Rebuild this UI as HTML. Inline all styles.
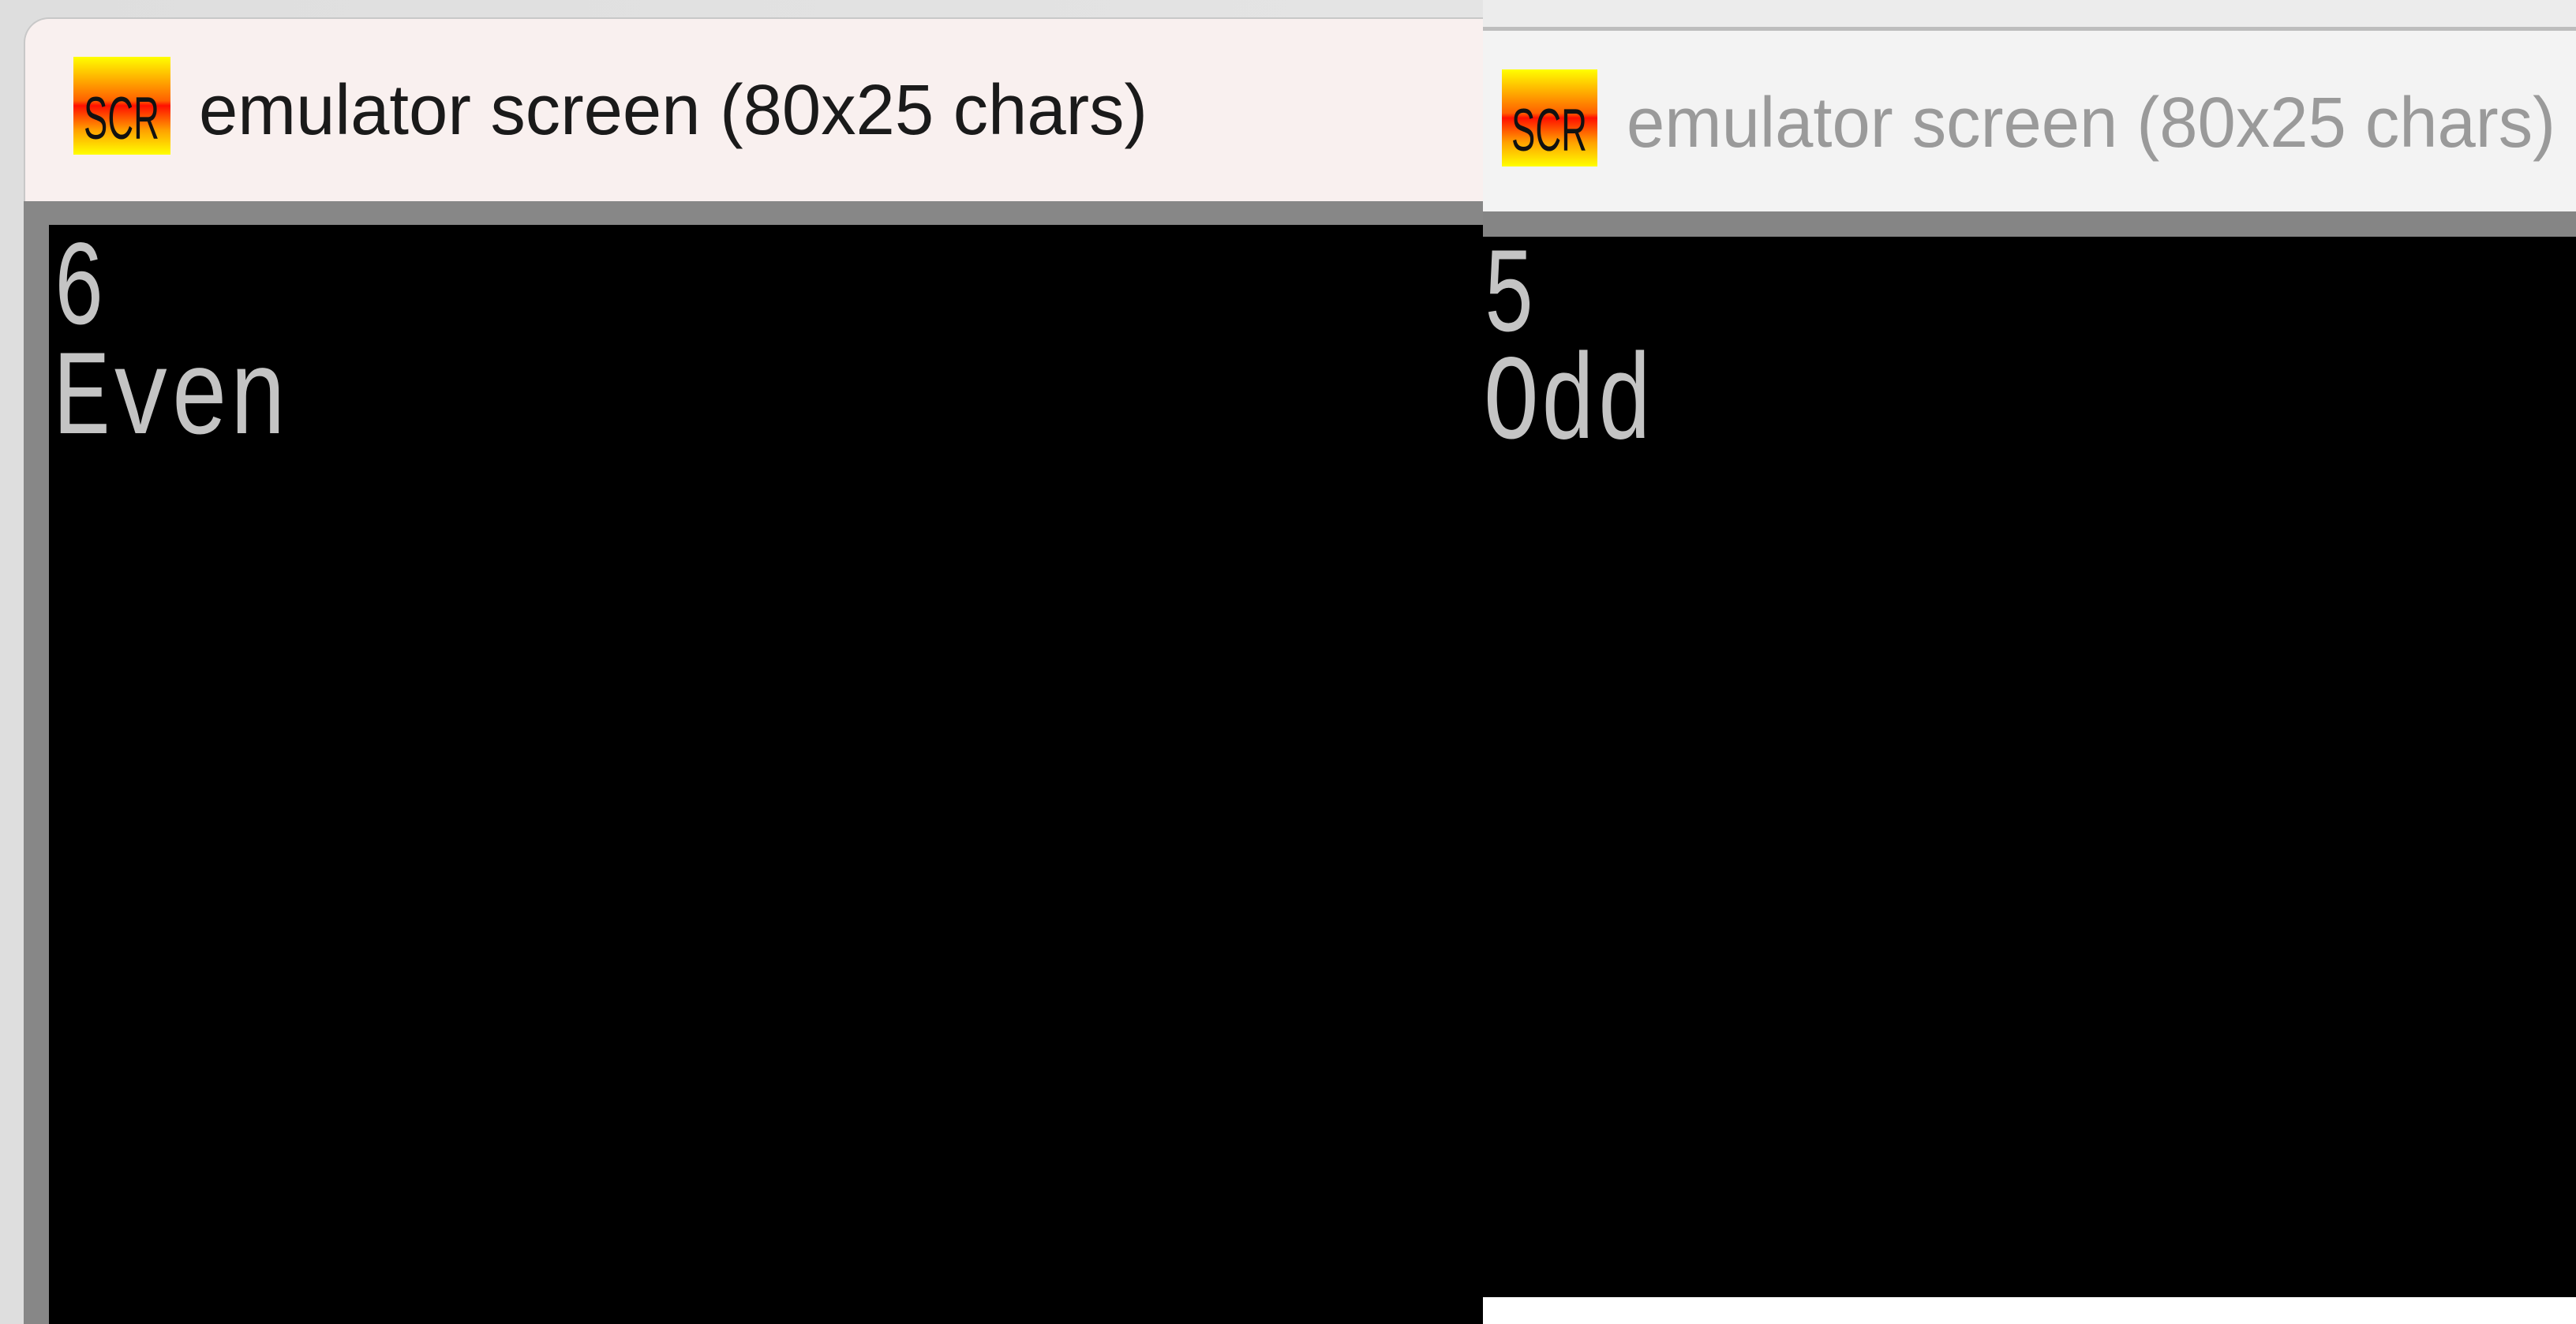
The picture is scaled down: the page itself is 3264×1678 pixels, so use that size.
<!DOCTYPE html>
<html><head><meta charset="utf-8"><style>
html,body{margin:0;padding:0;width:3264px;height:1678px;overflow:hidden;background:#e6e6e6}
svg{display:block}
</style></head><body>
<svg width="3264" height="1678" viewBox="0 0 3264 1678" xmlns="http://www.w3.org/2000/svg">
<defs>
<linearGradient id="ic" x1="0" y1="0" x2="0" y2="1">
<stop offset="0" stop-color="#ffff00"/>
<stop offset="0.45" stop-color="#ff6000"/>
<stop offset="0.5" stop-color="#ff1000"/>
<stop offset="0.75" stop-color="#ffa000"/>
<stop offset="1" stop-color="#ffff00"/>
</linearGradient>
<linearGradient id="bg" x1="0" y1="0" x2="1" y2="0">
<stop offset="0" stop-color="#dedede"/><stop offset="1" stop-color="#e9e9e9"/>
</linearGradient>
</defs>
<rect width="3264" height="1678" fill="url(#bg)"/>
<!-- left window -->
<rect x="30" y="22" width="1900" height="1700" rx="32" fill="#c8c8c8"/>
<rect x="32" y="24" width="1900" height="1700" rx="30" fill="#f9f0ef"/>
<rect x="30" y="255" width="1850" height="1423" fill="#878787"/>
<rect x="62" y="285" width="1818" height="1393" fill="#000"/>
<rect x="93" y="72" width="123" height="124" fill="url(#ic)"/>
<text x="154" y="176" text-anchor="middle" font-family="Liberation Sans, sans-serif" font-size="76" fill="#111" textLength="96" lengthAdjust="spacingAndGlyphs">SCR</text>
<text x="252" y="170" font-family="Liberation Sans, sans-serif" font-size="90" fill="#1a1a1a" textLength="1202" lengthAdjust="spacingAndGlyphs">emulator screen (80x25 chars)</text>
<text x="67" y="410" font-family="Liberation Mono, monospace" font-size="154" fill="#c4c4c4" textLength="66" lengthAdjust="spacingAndGlyphs">6</text>
<text x="67" y="549" font-family="Liberation Mono, monospace" font-size="154" fill="#c4c4c4" textLength="297" lengthAdjust="spacingAndGlyphs">Even</text>
<!-- right window -->
<rect x="1879" y="0" width="1385" height="36" fill="#ececec"/>
<rect x="1879" y="34" width="1385" height="5" fill="#bdbdbd"/>
<rect x="1879" y="39" width="1385" height="229" fill="#f3f3f3"/>
<rect x="1879" y="268" width="1385" height="32" fill="#858585"/>
<rect x="1879" y="300" width="1385" height="1344" fill="#000"/>
<rect x="1879" y="1644" width="1385" height="34" fill="#fff"/>
<rect x="1903" y="88" width="121" height="123" fill="url(#ic)"/>
<text x="1963" y="191" text-anchor="middle" font-family="Liberation Sans, sans-serif" font-size="76" fill="#111" textLength="96" lengthAdjust="spacingAndGlyphs">SCR</text>
<text x="2061" y="186" font-family="Liberation Sans, sans-serif" font-size="90" fill="#9a9a9a" textLength="1177" lengthAdjust="spacingAndGlyphs">emulator screen (80x25 chars)</text>
<text x="1879" y="419" font-family="Liberation Mono, monospace" font-size="154" fill="#c4c4c4" textLength="66" lengthAdjust="spacingAndGlyphs">5</text>
<text x="1879" y="555" font-family="Liberation Mono, monospace" font-size="154" fill="#c4c4c4" textLength="215" lengthAdjust="spacingAndGlyphs">Odd</text>
</svg>
</body></html>
